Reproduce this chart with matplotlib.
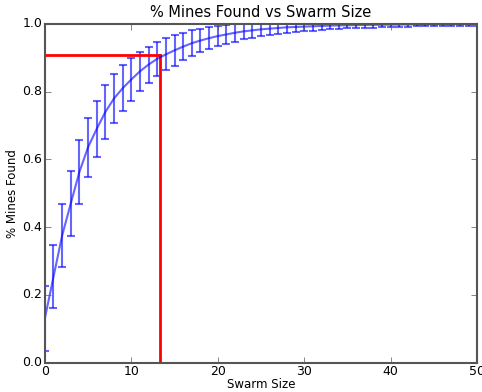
import matplotlib
matplotlib.use("Agg")
import matplotlib.pyplot as plt
import numpy as np

# Swarm size vs fraction of mines found (mean and spread)
swarm_size = np.arange(0, 51)
mean_found = [0.13, 0.253, 0.375, 0.47, 0.563, 0.636, 0.69, 0.74, 0.78, 0.81,
              0.836, 0.86, 0.88, 0.897, 0.91, 0.922, 0.933, 0.943, 0.951, 0.958,
              0.964, 0.969, 0.974, 0.978, 0.981, 0.984, 0.986, 0.988, 0.99, 0.991,
              0.992, 0.993, 0.994, 0.995, 0.9955, 0.996, 0.9965, 0.997, 0.9973, 0.9976,
              0.998, 0.9982, 0.9984, 0.9986, 0.9988, 0.999, 0.9991, 0.9992, 0.9993, 0.9994,
              0.9995]
err_found = [0.095, 0.093, 0.094, 0.097, 0.094, 0.087, 0.083, 0.08, 0.072, 0.068,
             0.064, 0.057, 0.053, 0.05, 0.047, 0.045, 0.041, 0.038, 0.035, 0.032,
             0.03, 0.028, 0.026, 0.024, 0.022, 0.02, 0.019, 0.017, 0.016, 0.015,
             0.014, 0.013, 0.012, 0.011, 0.01, 0.0095, 0.009, 0.0085, 0.008, 0.0075,
             0.007, 0.0068, 0.0065, 0.0062, 0.006, 0.0058, 0.0055, 0.0052, 0.005, 0.005,
             0.005]

# Swarm size needed for 90% coverage
mark_x = 13.35
mark_y = 0.908

plt.style.use('classic')
plt.rcParams['font.family'] = 'DejaVu Sans'

fig = plt.figure(figsize=(4.82, 3.92), dpi=100, facecolor='white')
ax = fig.add_axes([0.093, 0.075, 0.897, 0.864])
ax.set_facecolor('white')

ax.errorbar(swarm_size, mean_found, yerr=err_found, color='b', alpha=0.6,
            lw=1.5, elinewidth=1.5, capsize=3, capthick=1.5)
ax.plot([0, mark_x], [mark_y, mark_y], color='r', lw=2)
ax.plot([mark_x, mark_x], [0, mark_y], color='r', lw=2)

ax.set_xlim(0, 50)
ax.set_ylim(0, 1.0)
ax.set_xticks([0, 10, 20, 30, 40, 50])
ax.set_yticks([0.0, 0.2, 0.4, 0.6, 0.8, 1.0])
ax.tick_params(labelsize=9, direction='in', color='#555555', pad=2)
for s in ax.spines.values():
    s.set_color('#555555')
    s.set_linewidth(1.5)

ax.set_title("% Mines Found vs Swarm Size", fontsize=10.5)
ax.set_xlabel("Swarm Size", fontsize=8.5, labelpad=0)
ax.set_ylabel("% Mines Found", fontsize=8.5, labelpad=2)

fig.savefig("out.png", dpi=100, facecolor='white')
